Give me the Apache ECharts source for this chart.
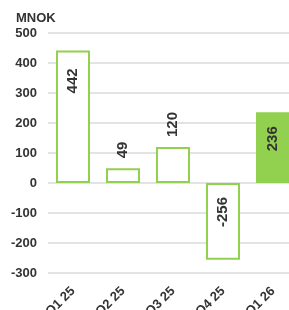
<!DOCTYPE html>
<html>
<head>
<meta charset="utf-8">
<script src="https://cdn.jsdelivr.net/npm/echarts@6/dist/echarts.min.js"></script>
<style>
  html, body { margin: 0; padding: 0; background: #fff; }
  #chart { width: 289px; height: 310px; }
</style>
</head>
<body>
<div id="chart"></div>
<script>
const quarters = ['Q1 25', 'Q2 25', 'Q3 25', 'Q4 25', 'Q1 26'];
const values = [442, 49, 120, -256, 236];
const filled = [false, false, false, false, true];
const yTicks = [-300, 500, 100];

const green = '#92d050';
const textColor = '#333';

let chart = echarts.init(document.getElementById('chart'), null, {renderer: 'canvas'});

const data = values.map(function (v, i) {
    let big = Math.abs(v) > 200;
    return {
        value: v,
        itemStyle: {
            color: filled[i] ? green : '#fff',
            borderColor: green,
            borderWidth: 2
        },
        label: big ? {
            position: 'insideTop',
            distance: v > 400 ? 18 : 14,
            align: 'right'
        } : {
            position: 'top',
            distance: 10,
            align: 'left'
        }
    };
});

const option = {
    animation: false,
    grid: {left: 48, right: -9, top: 33, bottom: 37, containLabel: false, outerBoundsMode: 'none'},
    xAxis: {
        type: 'category',
        data: quarters,
        axisLine: {show: false},
        axisTick: {show: false},
        axisLabel: {
            rotate: 45,
            color: textColor,
            fontFamily: 'Liberation Sans',
            fontWeight: 'bold',
            fontSize: 13,
            margin: 16
        }
    },
    yAxis: {
        type: 'value',
        name: 'MNOK',
        nameGap: 8,
        nameLocation: 'end',
        nameTextStyle: {
            color: textColor,
            fontFamily: 'Liberation Sans',
            fontWeight: 'bold',
            fontSize: 13,
            align: 'left',
            padding: [0, 0, 0, -32]
        },
        min: yTicks[0],
        max: yTicks[1],
        interval: yTicks[2],
        axisLine: {show: false},
        axisTick: {show: false},
        splitLine: {lineStyle: {color: '#e3e3e3', width: 2}},
        axisLabel: {
            color: textColor,
            fontFamily: 'Liberation Sans',
            fontWeight: 'bold',
            fontSize: 13,
            margin: 11
        }
    },
    series: [{
        type: 'bar',
        data: data,
        barWidth: 34,
        label: {
            show: true,
            rotate: 90,
            verticalAlign: 'middle',
            color: textColor,
            fontFamily: 'Liberation Sans',
            fontWeight: 'bold',
            fontSize: 15
        }
    }]
};

chart.setOption(option);
</script>
</body>
</html>
